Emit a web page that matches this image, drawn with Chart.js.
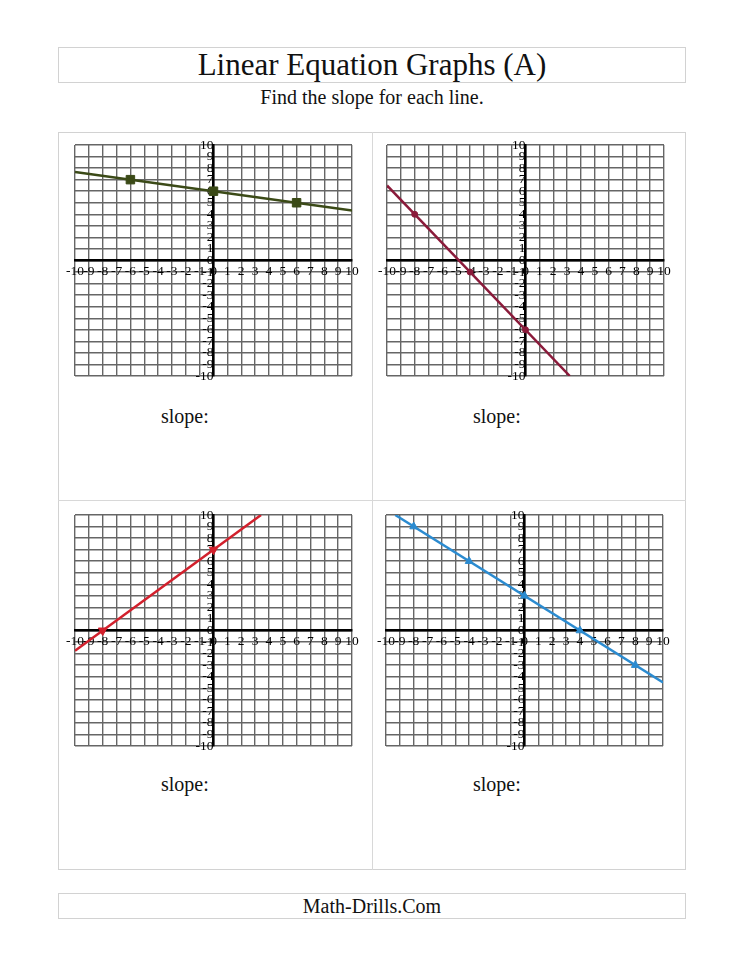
<!DOCTYPE html>
<html>
<head>
<meta charset="utf-8">
<title>Linear Equation Graphs (A)</title>
<script src="https://cdn.jsdelivr.net/npm/chart.js@4.4.1/dist/chart.umd.min.js"></script>
<style>
  body {
    margin: 0;
    width: 749px;
    height: 970px;
    background: #fff;
    position: relative;
    overflow: hidden;
    font-family: 'Liberation Serif', 'DejaVu Serif', serif;
    color: #111;
  }
  .box {
    position: absolute;
    border: 1px solid #d2d2d2;
    box-sizing: border-box;
  }
  .rule { position: absolute; background: #d8d8d8; }
  .title {
    position: absolute; left: 58px; width: 628px; top: 47px; height: 36px;
    text-align: center; font-size: 31px; line-height: 36px;
  }
  .subtitle {
    position: absolute; left: 58px; width: 628px; top: 85px;
    text-align: center; font-size: 20px; line-height: 24px;
  }
  .footer {
    position: absolute; left: 58px; width: 628px; top: 893px; height: 26px;
    text-align: center; font-size: 20px; line-height: 27px;
  }
  .slope { position: absolute; font-size: 20px; line-height: 22px; }
  canvas { position: absolute; }
</style>
</head>
<body>

<div class="box" style="left:58px; top:47px; width:628px; height:36px;"></div>
<div class="title">Linear Equation Graphs (A)</div>
<div class="subtitle">Find the slope for each line.</div>

<div class="box" style="left:58px; top:132px; width:628px; height:738px;"></div>
<div class="rule" style="left:372px; top:132px; width:1px; height:738px;"></div>
<div class="rule" style="left:58px; top:500px; width:628px; height:1px;"></div>

<div class="slope" style="left:161px; top:405px;">slope:</div>
<div class="slope" style="left:473px; top:405px;">slope:</div>
<div class="slope" style="left:161px; top:773px;">slope:</div>
<div class="slope" style="left:473px; top:773px;">slope:</div>

<div class="box" style="left:58px; top:893px; width:628px; height:26px;"></div>
<div class="footer">Math-Drills.Com</div>

<canvas id="graph1"></canvas>
<canvas id="graph2"></canvas>
<canvas id="graph3"></canvas>
<canvas id="graph4"></canvas>

<script>
// Tick labels on both axes
const tickValues = [-10, -9, -8, -7, -6, -5, -4, -3, -2, -1, 0, 1, 2, 3, 4, 5, 6, 7, 8, 9, 10];

// Graph 1 (top left): squares
const g1LineX = [-10, 10];
const g1LineY = [7.67, 4.33];
const g1MarkX = [-6, 0, 6];
const g1MarkY = [7, 6, 5];

// Graph 2 (top right): circles
const g2LineX = [-10, 3.2];
const g2LineY = [6.5, -10];
const g2MarkX = [-8, -4, 0];
const g2MarkY = [4, -1, -6];

// Graph 3 (bottom left): triangles down
const g3LineX = [-10, 3.43];
const g3LineY = [-1.75, 10];
const g3MarkX = [-8, 0];
const g3MarkY = [0, 7];

// Graph 4 (bottom right): triangles up
const g4LineX = [-9.33, 10];
const g4LineY = [10, -4.5];
const g4MarkX = [-8, -4, 0, 4, 8];
const g4MarkY = [9, 6, 3, 0, -3];

const GRID_W = 277;
const GRID_H = 231;
const PAD = { left: 15, top: 10, right: 17, bottom: 20 };

function toPoints(xs, ys) {
    return xs.map((x, i) => ({ x: x, y: ys[i] }));
}

function axisOptions(axis) {
    const other = axis === 'x' ? 'y' : 'x';
    const pos = {};
    pos[other] = 0;
    return {
        type: 'linear',
        position: pos,
        min: -10,
        max: 10,
        afterBuildTicks: scale => {
            scale.ticks = tickValues.map(v => ({ value: v }));
        },
        grid: {
            color: '#666',
            lineWidth: 1.4,
            drawTicks: false
        },
        border: {
            color: '#000',
            width: 2.5
        },
        ticks: {
            autoSkip: false,
            maxRotation: 0,
            minRotation: 0,
            padding: axis === 'x' ? 3 : 0,
            color: '#000',
            font: { family: "'Liberation Serif', serif", size: 13.5 }
        }
    };
}

function drawGraph(id, left, top, lineX, lineY, markX, markY, color, marker) {
    const canvas = document.getElementById(id);
    canvas.width = GRID_W + PAD.left + PAD.right;
    canvas.height = GRID_H + PAD.top + PAD.bottom;
    canvas.style.left = (left - PAD.left) + 'px';
    canvas.style.top = (top - PAD.top) + 'px';

    new Chart(canvas.getContext('2d'), {
        type: 'scatter',
        data: {
            datasets: [{
                data: toPoints(lineX, lineY),
                showLine: true,
                borderColor: color,
                borderWidth: 2.5,
                pointRadius: 0
            }, {
                data: toPoints(markX, markY),
                showLine: false,
                backgroundColor: color,
                borderColor: color,
                borderWidth: 1,
                pointStyle: marker.style,
                pointRadius: marker.radius,
                rotation: marker.rotation || 0
            }]
        },
        options: {
            responsive: false,
            devicePixelRatio: 1,
            animation: false,
            layout: { padding: PAD },
            plugins: {
                legend: { display: false },
                tooltip: { enabled: false }
            },
            scales: {
                x: axisOptions('x'),
                y: axisOptions('y')
            }
        }
    });
}

document.addEventListener('DOMContentLoaded', function() {
    drawGraph('graph1', 75, 145, g1LineX, g1LineY, g1MarkX, g1MarkY, '#3b4a17', { style: 'rect', radius: 6 });
    drawGraph('graph2', 387, 145, g2LineX, g2LineY, g2MarkX, g2MarkY, '#8a1a3a', { style: 'circle', radius: 3 });
    drawGraph('graph3', 75, 515, g3LineX, g3LineY, g3MarkX, g3MarkY, '#d2202c', { style: 'triangle', radius: 5, rotation: 180 });
    drawGraph('graph4', 386, 515, g4LineX, g4LineY, g4MarkX, g4MarkY, '#2b8bd0', { style: 'triangle', radius: 4.5 });
});
</script>
</body>
</html>
